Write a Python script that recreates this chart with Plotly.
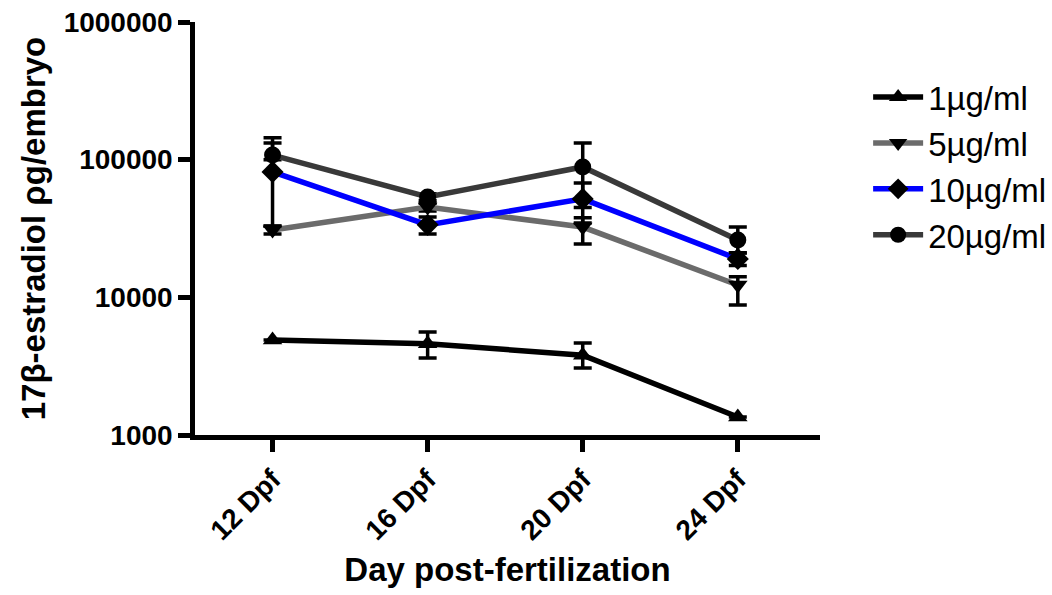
import plotly.graph_objects as go

days = ["12 Dpf", "16 Dpf", "20 Dpf", "24 Dpf"]
series_names = ["1\u00b5g/ml", "5\u00b5g/ml", "10\u00b5g/ml", "20\u00b5g/ml"]

v1 = [4900, 4600, 3800, 1350]
v1_plus = [None, 1000, 860, None]
v1_minus = [None, 970, 730, None]

v5 = [30800, 45300, 32400, 12300]
v5_plus = [2000, 3000, 5400, 1800]
v5_minus = [2000, 3000, 8000, 3500]

v10 = [81500, 33600, 51900, 19000]
v10_plus = [50500, 4800, 15900, 2000]
v10_minus = [48500, 4800, 17200, 2000]

v20 = [108000, 53600, 88500, 26100]
v20_plus = [36000, 3000, 43500, 6300]
v20_minus = [8000, 3000, 43500, 5000]

yticks = [1000, 10000, 100000, 1000000]
yticklabels = ["1000", "10000", "100000", "1000000"]

line_colors = ["#000000", "#6b6b6b", "#0000ff", "#393939"]
symbols = ["triangle-up", "triangle-down", "diamond", "circle"]

values = [v1, v5, v10, v20]
plus = [v1_plus, v5_plus, v10_plus, v20_plus]
minus = [v1_minus, v5_minus, v10_minus, v20_minus]

FONT = "Liberation Sans, Arial, sans-serif"

fig = go.Figure()
for name, v, p, m, c, s in zip(series_names, values, plus, minus, line_colors, symbols):
    fig.add_trace(go.Scatter(
        x=days, y=v, name=name, mode="lines+markers",
        line=dict(color=c, width=5.5),
        marker=dict(symbol=s, size=17, color="#000000", line=dict(width=0)),
        error_y=dict(type="data", array=p, arrayminus=m, symmetric=False,
                     color="#000000", thickness=3.5, width=9),
    ))

fig.update_layout(
    width=1052, height=595,
    margin=dict(l=195, r=232, t=22, b=160, autoexpand=False),
    paper_bgcolor="white", plot_bgcolor="white",
    font=dict(family=FONT, color="#000000"),
    showlegend=True,
    legend=dict(x=1.077, y=0.886, xanchor="left", yanchor="top",
                font=dict(size=33, family=FONT),
                itemwidth=50, tracegroupgap=0, bgcolor="rgba(0,0,0,0)"),
)
fig.update_xaxes(
    type="category", range=[-0.5, 3.53], automargin=False,
    showline=True, linecolor="#000000", linewidth=4.5,
    ticks="outside", ticklen=12, tickwidth=4.5, tickcolor="#000000",
    tickangle=-45, showgrid=False, zeroline=False,
    tickfont=dict(size=28, family=FONT, weight="bold"),
    title=dict(text="<b>Day post-fertilization</b>", font=dict(size=33, family=FONT), standoff=14),
)
fig.update_yaxes(
    type="log", range=[3, 6], automargin=False,
    tickvals=yticks, ticktext=yticklabels,
    showline=True, linecolor="#000000", linewidth=4.5,
    ticks="outside", ticklen=12, tickwidth=4.5, tickcolor="#000000",
    showgrid=False, zeroline=False,
    tickfont=dict(size=28, family=FONT, weight="bold"),
    title=dict(text="<b>17\u03b2-estradiol \u03c1g/embryo</b>", font=dict(size=33, family=FONT), standoff=10),
)

fig.write_html("out.html",
               config={"displayModeBar": False},
               post_script="document.body.style.margin='0px';document.body.style.padding='0px';")
